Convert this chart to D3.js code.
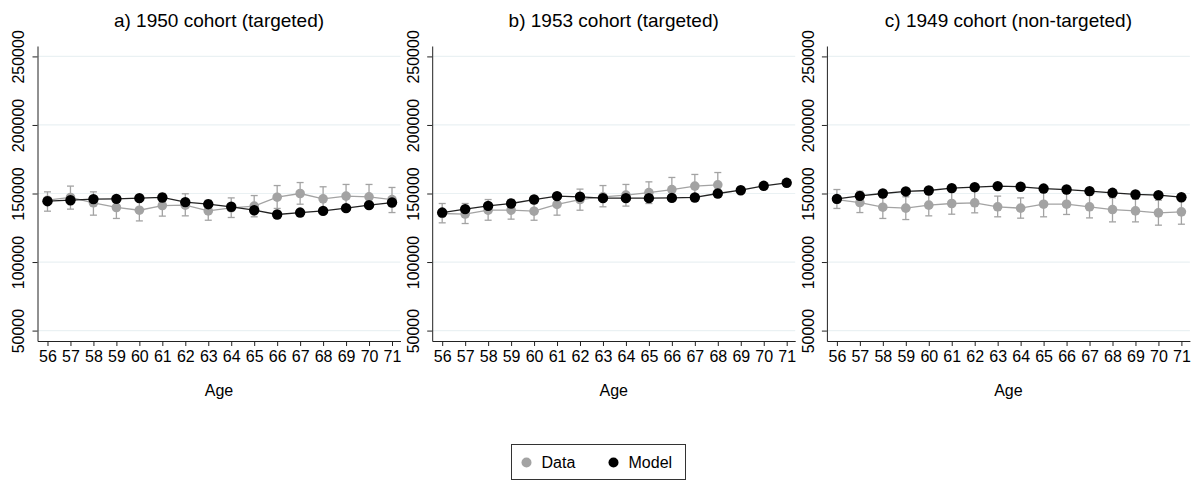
<!DOCTYPE html>
<html>
<head>
<meta charset="utf-8">
<script src="https://cdn.jsdelivr.net/npm/d3@7"></script>
<style>
  body { margin: 0; background: #fff; }
  svg { font-family: "Liberation Sans", Arial, sans-serif; }
</style>
</head>
<body>
<script>
var width = 1197,
    height = 483;

var ages = [56, 57, 58, 59, 60, 61, 62, 63, 64, 65, 66, 67, 68, 69, 70, 71];
var yTicks = [50000, 100000, 150000, 200000, 250000];
var titles = ["a) 1950 cohort (targeted)", "b) 1953 cohort (targeted)", "c) 1949 cohort (non-targeted)"];

// panel a
var dataA  = [145100, 147100, 143200, 139800, 137800, 141200, 141500, 137300, 139500, 140800, 147300, 150000, 146100, 148100, 147600, 145600];
var loA    = [137100, 138600, 134200, 131800, 130000, 133500, 133700, 130500, 132500, 133000, 139100, 142200, 137800, 139500, 139100, 136100];
var hiA    = [151200, 155400, 151200, 148100, 145600, 150000, 149800, 145100, 146800, 148500, 155800, 158000, 154900, 156600, 156600, 154400];
var modelA = [144400, 145100, 145900, 146100, 146600, 147100, 143700, 142200, 140300, 137800, 134700, 136100, 137300, 139300, 141500, 143400];

// panel b (data stops at 68)
var dataB  = [135400, 135000, 137800, 137800, 137100, 142000, 145600, 147600, 148800, 150700, 152900, 155400, 156300, null, null, null];
var loB    = [128600, 128100, 130500, 131300, 130500, 134200, 137800, 140300, 140800, 142700, 144600, 146800, 147600, null, null, null];
var hiB    = [142700, 142700, 145600, 145600, 144600, 150000, 153200, 155800, 156600, 158500, 161700, 163900, 165300, null, null, null];
var modelB = [136100, 138600, 141000, 142700, 145600, 148100, 147600, 146600, 146600, 146600, 146800, 147100, 150000, 152400, 155600, 157800];

// panel c
var dataC  = [145600, 143400, 140000, 139300, 141500, 142700, 143200, 140300, 139300, 142200, 142200, 140300, 138300, 137300, 135900, 136600];
var loC    = [139100, 136100, 131800, 131000, 133700, 134900, 135900, 133000, 132000, 133000, 134700, 132200, 129300, 129300, 126900, 127600];
var hiC    = [152900, 151700, 148800, 147600, 150000, 151200, 151700, 148100, 146800, 151200, 150700, 148800, 146800, 145900, 145100, 145600];
var modelC = [146100, 148300, 150000, 151500, 152200, 153900, 154600, 155400, 154900, 153600, 152900, 151700, 150500, 149300, 148800, 147300];

var panels = [
    { title: titles[0], data: dataA, lo: loA, hi: hiA, model: modelA },
    { title: titles[1], data: dataB, lo: loB, hi: hiB, model: modelB },
    { title: titles[2], data: dataC, lo: loC, hi: hiC, model: modelC }
];

var grey = "#a3a3a3",
    black = "#000",
    gridColor = "#eaf1f3";

var plotW = 363,
    plotTop = 46,
    plotBottom = 341;

var svg = d3.select("body").append("svg")
    .attr("width", width)
    .attr("height", height);

var x = d3.scaleLinear()
    .domain([56 - 10 / 22.97, 71 + 8.5 / 22.97])
    .range([0, plotW]);

var y = d3.scaleLinear()
    .domain([42400, 257600])
    .range([plotBottom, plotTop]);

panels.forEach(function (p, i) {
    var g = svg.append("g")
        .attr("transform", "translate(" + (37.5 + i * 394.7) + ",0)");

    // gridlines
    g.selectAll(".grid")
        .data(yTicks)
        .enter().append("line")
        .attr("x1", 0).attr("x2", plotW)
        .attr("y1", function (d) { return y(d); })
        .attr("y2", function (d) { return y(d); })
        .attr("stroke", gridColor)
        .attr("stroke-width", 1.2);

    var yAxis = g.append("g")
        .call(d3.axisLeft(y).tickValues(yTicks).tickSize(5).tickSizeOuter(0).tickFormat(d3.format("d")));
    yAxis.selectAll("text")
        .attr("transform", "rotate(-90)")
        .attr("x", 0).attr("y", -19)
        .attr("dy", "0.35em")
        .style("text-anchor", "middle")
        .style("font-size", "16px")
        .attr("fill", "#000");

    var xAxis = g.append("g")
        .attr("transform", "translate(0," + plotBottom + ")")
        .call(d3.axisBottom(x).tickValues(ages).tickSize(5).tickSizeOuter(0).tickFormat(d3.format("d")));
    xAxis.selectAll("text")
        .attr("y", 10)
        .style("font-size", "16px")
        .attr("fill", "#000");

    [yAxis, xAxis].forEach(function (a) {
        a.select(".domain").attr("stroke", "#222");
        a.selectAll(".tick line").attr("stroke", "#222");
    });

    g.append("text")
        .attr("x", plotW / 2)
        .attr("y", 26.5)
        .attr("text-anchor", "middle")
        .style("font-size", "19px")
        .text(p.title);

    g.append("text")
        .attr("x", plotW / 2)
        .attr("y", 396)
        .attr("text-anchor", "middle")
        .style("font-size", "16px")
        .text("Age");

    var rows = ages.map(function (a, k) {
        return { age: a, v: p.data[k], lo: p.lo[k], hi: p.hi[k], m: p.model[k] };
    });
    var withData = rows.filter(function (d) { return d.v != null; });

    // error bars
    var eb = g.selectAll(".eb")
        .data(withData)
        .enter().append("g")
        .attr("stroke", grey)
        .attr("stroke-width", 1.3);
    eb.append("line")
        .attr("x1", function (d) { return x(d.age); })
        .attr("x2", function (d) { return x(d.age); })
        .attr("y1", function (d) { return y(d.lo); })
        .attr("y2", function (d) { return y(d.hi); });
    eb.selectAll(".cap")
        .data(function (d) { return [[d.age, d.lo], [d.age, d.hi]]; })
        .enter().append("line")
        .attr("x1", function (d) { return x(d[0]) - 3.5; })
        .attr("x2", function (d) { return x(d[0]) + 3.5; })
        .attr("y1", function (d) { return y(d[1]); })
        .attr("y2", function (d) { return y(d[1]); });

    var dataLine = d3.line()
        .x(function (d) { return x(d.age); })
        .y(function (d) { return y(d.v); });
    g.append("path")
        .datum(withData)
        .attr("d", dataLine)
        .attr("fill", "none")
        .attr("stroke", grey)
        .attr("stroke-width", 1.3);
    g.selectAll(".dpt")
        .data(withData)
        .enter().append("circle")
        .attr("cx", function (d) { return x(d.age); })
        .attr("cy", function (d) { return y(d.v); })
        .attr("r", 4.8)
        .attr("fill", grey);

    var modelLine = d3.line()
        .x(function (d) { return x(d.age); })
        .y(function (d) { return y(d.m); });
    g.append("path")
        .datum(rows)
        .attr("d", modelLine)
        .attr("fill", "none")
        .attr("stroke", "#222")
        .attr("stroke-width", 1.3);
    g.selectAll(".mpt")
        .data(rows)
        .enter().append("circle")
        .attr("cx", function (d) { return x(d.age); })
        .attr("cy", function (d) { return y(d.m); })
        .attr("r", 5.2)
        .attr("fill", black);
});

// legend
var legend = svg.append("g").attr("transform", "translate(511.5,444.5)");
legend.append("rect")
    .attr("width", 174)
    .attr("height", 35)
    .attr("fill", "#fff")
    .attr("stroke", "#333")
    .attr("stroke-width", 1);
var legendItems = [
    { label: "Data", color: grey, x: 15 },
    { label: "Model", color: black, x: 102 }
];
legend.selectAll(".li")
    .data(legendItems)
    .enter().append("circle")
    .attr("cx", function (d) { return d.x; })
    .attr("cy", 18)
    .attr("r", 5)
    .attr("fill", function (d) { return d.color; });
legend.selectAll(".lt")
    .data(legendItems)
    .enter().append("text")
    .attr("x", function (d) { return d.x + 15; })
    .attr("y", 23.5)
    .style("font-size", "16px")
    .text(function (d) { return d.label; });
</script>
</body>
</html>
